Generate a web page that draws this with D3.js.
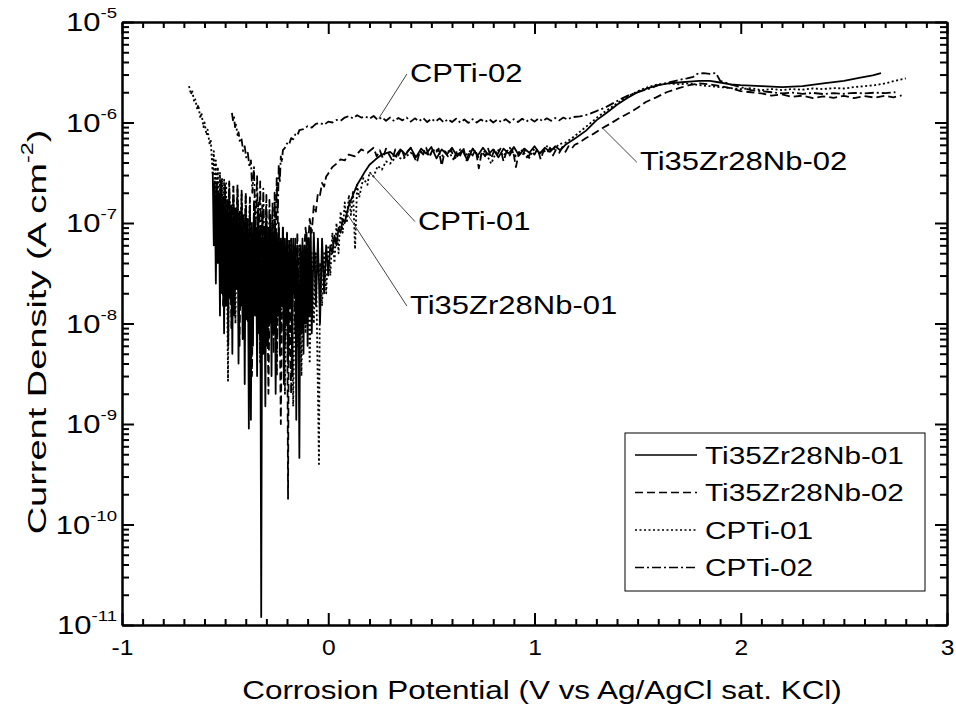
<!DOCTYPE html>
<html>
<head>
<meta charset="utf-8">
<script src="https://cdn.jsdelivr.net/npm/d3@7"></script>
<style>
  html, body { margin: 0; padding: 0; background: #fff; }
  svg { display: block; font-family: "Liberation Sans", Arial, sans-serif; }
</style>
</head>
<body>
<svg id="chart" width="956" height="718"></svg>
<script>
// Potentiodynamic polarisation curves: [potential (V vs Ag/AgCl), current density (A cm^-2)]
const seriesNames = ["Ti35Zr28Nb-01", "Ti35Zr28Nb-02", "CPTi-01", "CPTi-02"];

const tz01 = [
  [-0.560,3.2e-7],[-0.555,6e-8],[-0.550,2.6e-7],[-0.545,2.5e-8],[-0.540,2.2e-7],[-0.535,4e-8],[-0.530,2e-7],[-0.525,1.2e-8],
  [-0.520,2.3e-7],[-0.515,2e-8],[-0.510,1.8e-7],[-0.505,8e-9],[-0.500,2e-7],[-0.495,1.5e-8],[-0.490,1.7e-7],[-0.485,6e-9],
  [-0.480,1.9e-7],[-0.475,1.8e-8],[-0.470,1.5e-7],[-0.465,5e-9],[-0.460,1.8e-7],[-0.455,1.2e-8],[-0.450,1.4e-7],[-0.445,2.2e-8],
  [-0.440,1.7e-7],[-0.435,4e-9],[-0.430,1.3e-7],[-0.425,1.5e-8],[-0.420,1.5e-7],[-0.415,7e-9],[-0.410,1.2e-7],[-0.405,2.5e-9],
  [-0.400,1.4e-7],[-0.395,1.1e-8],[-0.390,1.1e-7],[-0.385,9e-10],[-0.380,1.3e-7],[-0.375,1.1e-9],[-0.370,1e-7],[-0.365,6e-9],
  [-0.360,1.2e-7],[-0.355,1.2e-8],[-0.350,9e-8],[-0.345,3e-9],[-0.340,1.1e-7],[-0.335,8e-9],[-0.330,9e-8],[-0.325,1.2e-11],
  [-0.320,1e-7],[-0.315,5e-9],[-0.310,8e-8],[-0.305,1.5e-9],[-0.300,1e-7],[-0.295,6e-9],[-0.290,9e-8],[-0.285,1e-8],
  [-0.280,1.1e-7],[-0.275,3e-9],[-0.270,8e-8],[-0.265,8e-9],[-0.260,1e-7],[-0.255,2e-9],[-0.250,8e-8],[-0.245,1.2e-8],
  [-0.240,9e-8],[-0.235,5e-9],[-0.230,7e-8],[-0.225,1.5e-8],[-0.220,9e-8],[-0.215,2.5e-9],[-0.210,7e-8],[-0.205,1e-8],
  [-0.200,8e-8],[-0.195,4e-9],[-0.190,6e-8],[-0.185,1.5e-8],[-0.180,7e-8],[-0.175,3e-9],[-0.170,6e-8],[-0.165,2e-8],
  [-0.160,7e-8],[-0.155,1.1e-9],[-0.150,6e-8],[-0.145,2e-8],[-0.140,4.6e-10],[-0.135,6e-8],[-0.130,8e-9],[-0.125,7e-8],
  [-0.120,5e-9],[-0.115,6e-8],[-0.110,1e-8],[-0.105,8e-8],[-0.100,6e-9],[-0.095,7e-8],[-0.090,1.2e-8],[-0.085,9e-8],
  [-0.080,8e-9],[-0.070,8e-8],[-0.060,1.5e-8],[-0.050,7e-8],[-0.040,1e-8],[-0.030,7e-8],[-0.020,2e-8],[-0.010,6e-8],
  [0.000,3e-8],[0.010,6e-8],[0.020,5e-8],[0.030,7.5e-8],[0.040,6e-8],[0.050,9e-8],[0.060,8e-8],[0.070,1.1e-7],
  [0.080,1e-7],[0.090,1.25e-7],[0.100,1.5e-7],[0.120,1.9e-7],[0.140,2.4e-7],[0.160,2.8e-7],[0.180,3.3e-7],[0.200,3.8e-7],
  [0.230,4.3e-7],[0.260,4.8e-7],[0.300,5.1e-7],[0.325,4.6e-7],[0.350,5.4e-7],[0.375,4.8e-7],[0.400,5.6e-7],[0.425,4.5e-7],
  [0.450,5.5e-7],[0.475,4.9e-7],[0.500,5.7e-7],[0.525,4.4e-7],[0.550,5.4e-7],[0.575,4.8e-7],[0.600,5.6e-7],[0.625,4.6e-7],
  [0.650,5.3e-7],[0.675,4.2e-7],[0.700,5.5e-7],[0.725,4.7e-7],[0.750,5.6e-7],[0.775,4.8e-7],[0.800,5.4e-7],[0.825,4.5e-7],
  [0.850,5.5e-7],[0.875,4.9e-7],[0.900,5.7e-7],[0.925,4.7e-7],[0.950,5.5e-7],[0.975,5e-7],[1.000,5.8e-7],[1.025,4.9e-7],
  [1.050,5.6e-7],[1.075,5.1e-7],[1.100,5.8e-7],[1.125,5.3e-7],[1.150,6e-7],[1.200,7e-7],[1.250,8.3e-7],[1.300,1.05e-6],
  [1.350,1.25e-6],[1.400,1.5e-6],[1.450,1.75e-6],[1.500,2e-6],[1.550,2.2e-6],[1.600,2.35e-6],[1.650,2.45e-6],[1.700,2.5e-6],
  [1.750,2.55e-6],[1.800,2.6e-6],[1.850,2.6e-6],[1.900,2.5e-6],[1.950,2.4e-6],[2.000,2.35e-6],[2.100,2.3e-6],[2.200,2.25e-6],
  [2.300,2.3e-6],[2.400,2.45e-6],[2.500,2.6e-6],[2.580,2.8e-6],[2.640,2.95e-6],[2.680,3.1e-6]
];

const tz02 = [
  [-0.54,2.6e-7],[-0.53,4e-8],[-0.52,2.8e-7],[-0.51,1.5e-8],[-0.50,2.5e-7],[-0.49,3e-8],[-0.48,2.6e-7],[-0.47,9e-9],
  [-0.46,2.3e-7],[-0.45,2.5e-8],[-0.44,2.4e-7],[-0.43,6e-9],[-0.42,2.1e-7],[-0.41,2e-8],[-0.40,2e-7],[-0.39,1e-8],
  [-0.38,1.8e-7],[-0.37,3e-9],[-0.36,1.7e-7],[-0.35,1.5e-8],[-0.34,1.6e-7],[-0.33,5e-9],[-0.32,1.5e-7],[-0.31,1.2e-8],
  [-0.30,1.3e-7],[-0.29,2e-9],[-0.28,1.2e-7],[-0.27,8e-9],[-0.26,1.1e-7],[-0.25,3e-9],[-0.24,1e-7],[-0.23,1e-9],
  [-0.22,9e-8],[-0.21,6e-9],[-0.20,8e-8],[-0.195,1.8e-10],[-0.19,7e-8],[-0.18,2e-9],[-0.17,7e-8],[-0.16,8e-9],
  [-0.15,8e-8],[-0.14,1.5e-8],[-0.13,5e-8],[-0.12,4e-8],[-0.11,9e-8],[-0.10,5e-8],[-0.09,1.1e-7],[-0.08,8e-8],
  [-0.07,1.5e-7],[-0.06,1.3e-7],[-0.05,2e-7],[-0.04,1.9e-7],[-0.03,2.5e-7],[-0.02,2.3e-7],[-0.01,2.9e-7],[0.00,3.1e-7],
  [0.02,3.6e-7],[0.04,3.9e-7],[0.06,4.3e-7],[0.08,4.2e-7],[0.10,4.8e-7],[0.13,4.6e-7],[0.16,5.4e-7],[0.19,5e-7],
  [0.22,5.6e-7],[0.235,4.6e-7],[0.25,5.3e-7],[0.265,4.4e-7],[0.28,5.5e-7],[0.295,4.8e-7],[0.31,4.2e-7],[0.325,5.4e-7],
  [0.34,4.7e-7],[0.355,5.5e-7],[0.37,4.5e-7],[0.385,5.2e-7],[0.40,5.6e-7],[0.415,4.6e-7],[0.43,4.0e-7],[0.445,5.3e-7],
  [0.46,4.8e-7],[0.475,5.6e-7],[0.49,4.5e-7],[0.505,5.3e-7],[0.52,4.9e-7],[0.535,5.5e-7],[0.55,3.7e-7],[0.565,5.2e-7],
  [0.58,4.6e-7],[0.595,5.4e-7],[0.61,4.4e-7],[0.625,5.3e-7],[0.64,4.7e-7],[0.655,5.6e-7],[0.67,4.2e-7],[0.685,5.1e-7],
  [0.70,4.7e-7],[0.715,5.4e-7],[0.73,3.5e-7],[0.745,5.2e-7],[0.76,4.6e-7],[0.775,5.5e-7],[0.79,4.4e-7],[0.805,5.3e-7],
  [0.82,4.8e-7],[0.835,5.5e-7],[0.85,4.1e-7],[0.865,5.2e-7],[0.88,4.7e-7],[0.895,5.4e-7],[0.91,3.6e-7],[0.925,5.1e-7],
  [0.94,4.6e-7],[0.955,5.4e-7],[0.97,4.5e-7],[0.985,5.2e-7],[1.00,4.8e-7],[1.015,5.5e-7],[1.03,4.3e-7],[1.045,5.3e-7],
  [1.06,4.9e-7],[1.075,5.6e-7],[1.09,4.7e-7],[1.105,5.4e-7],[1.12,5.0e-7],[1.135,5.7e-7],[1.15,5.1e-7],[1.165,5.8e-7],
  [1.18,5.5e-7],[1.195,6.0e-7],[1.21,6.2e-7],[1.25,7e-7],[1.29,7.8e-7],[1.33,8.8e-7],[1.37,9.8e-7],[1.41,1.1e-6],
  [1.46,1.25e-6],[1.50,1.4e-6],[1.54,1.6e-6],[1.59,1.78e-6],[1.64,2e-6],[1.70,2.2e-6],[1.75,2.35e-6],[1.80,2.45e-6],
  [1.85,2.4e-6],[1.90,2.3e-6],[1.95,2.2e-6],[2.00,2.05e-6],[2.05,2e-6],[2.10,1.95e-6],[2.15,1.85e-6],[2.20,1.9e-6],
  [2.25,1.8e-6],[2.30,1.85e-6],[2.35,1.75e-6],[2.40,1.82e-6],[2.45,1.76e-6],[2.50,1.84e-6],[2.55,1.75e-6],[2.60,1.83e-6],
  [2.65,1.77e-6],[2.70,1.85e-6],[2.74,1.78e-6],[2.78,1.86e-6]
];

const cpti01 = [
  [-0.675,2.3e-6],[-0.665,1.9e-6],[-0.66,2.1e-6],[-0.65,1.6e-6],[-0.645,1.7e-6],[-0.635,1.35e-6],[-0.63,1.5e-6],[-0.62,1.1e-6],
  [-0.615,1.25e-6],[-0.605,9e-7],[-0.60,1e-6],[-0.59,7.5e-7],[-0.585,8.5e-7],[-0.575,6e-7],[-0.57,6.8e-7],[-0.56,3e-7],
  [-0.555,5.2e-7],[-0.55,1.5e-7],[-0.545,4.2e-7],[-0.54,8e-8],[-0.535,3.6e-7],[-0.53,5e-8],[-0.525,3.2e-7],[-0.52,2e-8],
  [-0.515,2.8e-7],[-0.51,6e-8],[-0.505,2.7e-7],[-0.50,1.5e-8],[-0.495,2.6e-7],[-0.486,2.7e-9],[-0.48,2.5e-7],[-0.47,3e-8],
  [-0.46,2.4e-7],[-0.45,1e-8],[-0.44,2.2e-7],[-0.43,4e-8],[-0.42,2e-7],[-0.41,8e-9],[-0.40,1.9e-7],[-0.39,2.5e-8],
  [-0.38,1.7e-7],[-0.37,5e-9],[-0.36,1.6e-7],[-0.35,2e-8],[-0.34,1.5e-7],[-0.33,4e-9],[-0.32,1.3e-7],[-0.31,1.5e-8],
  [-0.30,1.2e-7],[-0.29,6e-9],[-0.28,1.1e-7],[-0.27,1.2e-8],[-0.26,1e-7],[-0.25,3e-9],[-0.24,9e-8],[-0.23,7e-9],
  [-0.22,8e-8],[-0.21,2e-9],[-0.20,7e-8],[-0.19,5e-9],[-0.18,7e-8],[-0.17,1.5e-9],[-0.16,6e-8],[-0.15,6e-9],
  [-0.14,6e-8],[-0.13,3e-9],[-0.12,5e-8],[-0.11,8e-9],[-0.10,5.5e-8],[-0.09,4e-9],[-0.08,5e-8],[-0.07,1e-8],
  [-0.06,5e-8],[-0.045,4e-10],[-0.04,4e-8],[-0.03,1.5e-8],[-0.02,5e-8],[-0.01,2e-8],[0.00,6e-8],[0.01,3e-8],
  [0.02,8e-8],[0.03,4e-8],[0.04,1e-7],[0.05,5e-8],[0.06,1.3e-7],[0.07,8e-8],[0.08,1.6e-7],[0.09,1e-7],
  [0.10,1.9e-7],[0.11,1.2e-7],[0.12,2.1e-7],[0.13,5.5e-8],[0.14,2.4e-7],[0.15,1.8e-7],[0.17,2.8e-7],[0.19,2.4e-7],
  [0.20,3.2e-7],[0.22,2.9e-7],[0.24,3.7e-7],[0.26,3.4e-7],[0.28,4.1e-7],[0.30,3.9e-7],[0.33,4.6e-7],[0.36,4.3e-7],
  [0.40,5e-7],[0.43,4.5e-7],[0.46,5.3e-7],[0.49,4.7e-7],[0.52,5.5e-7],[0.55,4.6e-7],[0.58,5.3e-7],[0.61,4.2e-7],
  [0.64,5.4e-7],[0.67,4.8e-7],[0.70,5.5e-7],[0.73,4.5e-7],[0.76,5.2e-7],[0.79,3.9e-7],[0.82,5.4e-7],[0.85,4.7e-7],
  [0.88,5.6e-7],[0.91,4.6e-7],[0.94,5.3e-7],[0.97,4.3e-7],[1.00,5.5e-7],[1.03,5.0e-7],[1.06,5.8e-7],[1.09,5.3e-7],
  [1.12,6.1e-7],[1.15,6.3e-7],[1.19,7.2e-7],[1.23,8.4e-7],[1.27,9.8e-7],[1.31,1.15e-6],[1.35,1.32e-6],[1.40,1.55e-6],
  [1.45,1.8e-6],[1.50,2.05e-6],[1.55,2.25e-6],[1.60,2.4e-6],[1.65,2.45e-6],[1.70,2.4e-6],[1.75,2.45e-6],[1.80,2.35e-6],
  [1.85,2.3e-6],[1.90,2.25e-6],[1.95,2.2e-6],[2.00,2.15e-6],[2.05,2.2e-6],[2.10,2.1e-6],[2.15,2.15e-6],[2.20,2.1e-6],
  [2.25,2.15e-6],[2.30,2.12e-6],[2.35,2.18e-6],[2.40,2.15e-6],[2.45,2.2e-6],[2.50,2.18e-6],[2.55,2.25e-6],[2.60,2.3e-6],
  [2.65,2.35e-6],[2.70,2.45e-6],[2.75,2.6e-6],[2.80,2.75e-6]
];

const cpti02 = [
  [-0.467,1.25e-6],[-0.462,1.05e-6],[-0.457,1.15e-6],[-0.452,9e-7],[-0.447,9.5e-7],[-0.440,7.5e-7],[-0.435,8e-7],[-0.428,6.3e-7],
  [-0.420,6.8e-7],[-0.413,5.2e-7],[-0.405,5.8e-7],[-0.398,4.5e-7],[-0.390,5e-7],[-0.382,3.6e-7],[-0.375,4.2e-7],[-0.368,2e-7],
  [-0.360,3.6e-7],[-0.353,8e-8],[-0.345,3e-7],[-0.338,3e-8],[-0.330,2.6e-7],[-0.322,1.2e-8],[-0.315,2.2e-7],[-0.308,4e-8],
  [-0.300,1.9e-7],[-0.293,8e-9],[-0.285,1.7e-7],[-0.278,2e-8],[-0.270,1.6e-7],[-0.265,5e-9],[-0.260,2e-7],[-0.255,4e-8],
  [-0.250,2.8e-7],[-0.245,1e-7],[-0.240,3.8e-7],[-0.235,2.5e-7],[-0.230,4.6e-7],[-0.225,4e-7],[-0.220,5.3e-7],[-0.210,5.6e-7],
  [-0.200,6.2e-7],[-0.190,6e-7],[-0.180,7e-7],[-0.170,6.8e-7],[-0.160,7.6e-7],[-0.150,7.4e-7],[-0.140,8.4e-7],[-0.120,8.6e-7],
  [-0.100,9.2e-7],[-0.080,8.9e-7],[-0.060,9.7e-7],[-0.040,9.9e-7],[-0.020,9.5e-7],[0.000,1.02e-6],[0.020,1e-6],[0.040,1.06e-6],
  [0.060,1.04e-6],[0.080,1.12e-6],[0.100,1.16e-6],[0.120,1.1e-6],[0.140,1.18e-6],[0.160,1.12e-6],[0.180,1.15e-6],[0.200,1.09e-6],
  [0.220,1.16e-6],[0.240,1.06e-6],[0.260,1.13e-6],[0.280,1.04e-6],[0.300,1.12e-6],[0.320,1.03e-6],[0.340,1.11e-6],[0.360,1.05e-6],
  [0.380,1.12e-6],[0.400,1.02e-6],[0.420,1.1e-6],[0.440,1.03e-6],[0.460,1.11e-6],[0.480,1.01e-6],[0.500,1.09e-6],[0.520,1.02e-6],
  [0.540,1.1e-6],[0.560,1.0e-6],[0.580,1.08e-6],[0.600,1.01e-6],[0.620,1.09e-6],[0.640,1.0e-6],[0.660,1.07e-6],[0.680,9.9e-7],
  [0.700,1.08e-6],[0.720,1.0e-6],[0.740,1.07e-6],[0.760,1.01e-6],[0.780,1.08e-6],[0.800,1.0e-6],[0.820,1.07e-6],[0.840,1.01e-6],
  [0.860,1.08e-6],[0.880,1.0e-6],[0.900,1.08e-6],[0.920,1.01e-6],[0.940,1.09e-6],[0.960,1.02e-6],[0.980,1.09e-6],[1.000,1.02e-6],
  [1.020,1.1e-6],[1.040,1.03e-6],[1.060,1.1e-6],[1.080,1.04e-6],[1.100,1.11e-6],[1.120,1.05e-6],[1.140,1.12e-6],[1.160,1.07e-6],
  [1.180,1.13e-6],[1.220,1.15e-6],[1.260,1.2e-6],[1.300,1.3e-6],[1.340,1.4e-6],[1.380,1.55e-6],
  [1.420,1.72e-6],[1.460,1.88e-6],[1.500,2.0e-6],[1.550,2.15e-6],[1.600,2.35e-6],[1.650,2.5e-6],[1.700,2.65e-6],[1.740,2.75e-6],
  [1.770,2.85e-6],[1.790,3.05e-6],[1.820,3.1e-6],[1.850,3.05e-6],[1.880,3.1e-6],[1.900,2.6e-6],[1.950,2.4e-6],[2.000,2.25e-6],
  [2.050,2.1e-6],[2.100,2.05e-6],[2.150,2e-6],[2.200,1.95e-6],[2.250,1.98e-6],[2.300,1.93e-6],[2.350,1.97e-6],[2.400,1.92e-6],
  [2.450,1.96e-6],[2.500,1.93e-6],[2.550,1.97e-6],[2.600,1.95e-6],[2.650,1.98e-6],[2.700,1.96e-6],[2.750,2.0e-6]
];

const seriesData = [tz01, tz02, cpti01, cpti02];
const seriesDash = ["none", "8,4", "2,2.5", "9,3,2,3"];

const xTicks = [-1, 0, 1, 2, 3];
const yExponents = [-11, -10, -9, -8, -7, -6, -5];

// Callout labels: text, anchor on curve [V, A cm^-2], text position [V, A cm^-2]
const callouts = [
  { text: "CPTi-02",       at: [0.245, 1.1e-6],  label: [0.396, 2.65e-6] },
  { text: "CPTi-01",       at: [0.200, 3.2e-7],  label: [0.435, 9e-8] },
  { text: "Ti35Zr28Nb-01", at: [0.090, 1.25e-7], label: [0.396, 1.3e-8] },
  { text: "Ti35Zr28Nb-02", at: [1.330, 8.8e-7],  label: [1.511, 3.5e-7] }
];

const svg = d3.select("#chart");
const plotL = 122, plotR = 947, plotT = 22, plotB = 625;
const TEXT_SX = 1.24;   // horizontal glyph stretch used by the typeface in this figure

const x = d3.scaleLinear().domain([-1, 3]).range([plotL, plotR]);
const y = d3.scaleLog().domain([1e-11, 1e-5]).range([plotB, plotT]);

// place a text element at (px,py) with a horizontal stretch
function stretched(parent, px, py, sx, extra) {
  return parent.append("text")
    .attr("transform", `translate(${px},${py})${extra || ""} scale(${sx},1)`)
    .attr("fill", "#000");
}

svg.append("defs").append("clipPath").attr("id", "plotClip")
  .append("rect").attr("x", plotL).attr("y", plotT).attr("width", plotR - plotL).attr("height", plotB - plotT);

// Curves
const line = d3.line().x(d => x(d[0])).y(d => y(d[1]));
const curves = svg.append("g").attr("clip-path", "url(#plotClip)");
seriesData.forEach((s, i) => {
  curves.append("path")
    .attr("d", line(s))
    .attr("fill", "none")
    .attr("stroke", "#000")
    .attr("stroke-width", 1.8)
    .attr("stroke-linejoin", "round")
    .attr("stroke-dasharray", seriesDash[i] === "none" ? null : seriesDash[i]);
});

// Axes with inward ticks on all four sides
const xMinor = d3.range(-1, 3.0001, 0.1).map(v => +v.toFixed(1)).filter(v => !xTicks.includes(v));
const yMajor = yExponents.map(e => Math.pow(10, e));
const yMinor = [];
yExponents.slice(0, -1).forEach(e => { for (let m = 2; m <= 9; m++) yMinor.push(m * Math.pow(10, e)); });

function styleAxis(g) {
  g.selectAll("path.domain").attr("stroke", "#000").attr("stroke-width", 2);
  g.selectAll(".tick line").attr("stroke", "#000").attr("stroke-width", 2);
}

const fmt = d => String(d);

svg.append("g").attr("transform", `translate(0,${plotB})`)
  .call(d3.axisBottom(x).tickValues(xTicks).tickSizeInner(-12).tickSizeOuter(0).tickPadding(14).tickFormat(fmt))
  .call(styleAxis)
  .call(g => g.selectAll("text")
    .attr("font-size", 22).attr("fill", "#000")
    .attr("font-family", "Liberation Sans, Arial, sans-serif")
    .attr("transform", "scale(1.12,1)"));
svg.append("g").attr("transform", `translate(0,${plotB})`)
  .call(d3.axisBottom(x).tickValues(xMinor).tickSizeInner(-6).tickSizeOuter(0).tickFormat(""))
  .call(styleAxis);
svg.append("g").attr("transform", `translate(0,${plotT})`)
  .call(d3.axisTop(x).tickValues(xTicks).tickSizeInner(-12).tickSizeOuter(0).tickFormat(""))
  .call(styleAxis);
svg.append("g").attr("transform", `translate(0,${plotT})`)
  .call(d3.axisTop(x).tickValues(xMinor).tickSizeInner(-6).tickSizeOuter(0).tickFormat(""))
  .call(styleAxis);

svg.append("g").attr("transform", `translate(${plotL},0)`)
  .call(d3.axisLeft(y).tickValues(yMajor).tickSizeInner(-12).tickSizeOuter(0).tickFormat(""))
  .call(styleAxis);
svg.append("g").attr("transform", `translate(${plotL},0)`)
  .call(d3.axisLeft(y).tickValues(yMinor).tickSizeInner(-7).tickSizeOuter(0).tickFormat(""))
  .call(styleAxis);
svg.append("g").attr("transform", `translate(${plotR},0)`)
  .call(d3.axisRight(y).tickValues(yMajor).tickSizeInner(-12).tickSizeOuter(0).tickFormat(""))
  .call(styleAxis);
svg.append("g").attr("transform", `translate(${plotR},0)`)
  .call(d3.axisRight(y).tickValues(yMinor).tickSizeInner(-7).tickSizeOuter(0).tickFormat(""))
  .call(styleAxis);

// Y tick labels as 10^n
const yLab = svg.append("g").attr("font-size", 25);
yExponents.forEach(e => {
  const t = stretched(yLab, plotL - 5, y(Math.pow(10, e)) + 9, TEXT_SX).attr("text-anchor", "end");
  t.append("tspan").text("10");
  t.append("tspan").attr("font-size", 15).attr("dy", -13).text(String(e));
});

// Axis titles
const xTitle = svg.append("text")
  .attr("font-size", 25).attr("fill", "#000").attr("text-anchor", "middle")
  .text("Corrosion Potential (V vs Ag/AgCl sat. KCl)");
const xTitleSx = 600 / xTitle.node().getComputedTextLength();
xTitle.attr("transform", `translate(542,699) scale(${xTitleSx},1)`);

const yTitle = svg.append("text")
  .attr("font-size", 26).attr("fill", "#000").attr("text-anchor", "middle");
yTitle.append("tspan").text("Current Density (A cm");
yTitle.append("tspan").attr("font-size", 16).attr("dy", -13).text("-2");
yTitle.append("tspan").attr("dy", 13).text(")");
const yTitleSx = 405 / yTitle.node().getComputedTextLength();
yTitle.attr("transform", `translate(46,332) rotate(-90) scale(${yTitleSx},1)`);

// Callouts with leader lines
const co = svg.append("g");
callouts.forEach(c => {
  const lx = x(c.label[0]), ly = y(c.label[1]);
  co.append("line")
    .attr("x1", x(c.at[0])).attr("y1", y(c.at[1]))
    .attr("x2", lx - 3).attr("y2", ly - 6)
    .attr("stroke", "#444").attr("stroke-width", 1);
  stretched(co, lx, ly + 2, TEXT_SX).attr("font-size", 25).text(c.text);
});

// Legend
const lg = svg.append("g");
lg.append("rect")
  .attr("x", 625).attr("y", 433).attr("width", 300).attr("height", 158)
  .attr("fill", "#fff").attr("stroke", "#000").attr("stroke-width", 1);
seriesNames.forEach((name, i) => {
  const cy = 455 + i * 37.5;
  lg.append("line")
    .attr("x1", 635).attr("x2", 697).attr("y1", cy).attr("y2", cy)
    .attr("stroke", "#000").attr("stroke-width", 1.4)
    .attr("stroke-dasharray", seriesDash[i] === "none" ? null : seriesDash[i]);
  stretched(lg, 705, cy + 8.5, TEXT_SX).attr("font-size", 24).text(name);
});
</script>
</body>
</html>
